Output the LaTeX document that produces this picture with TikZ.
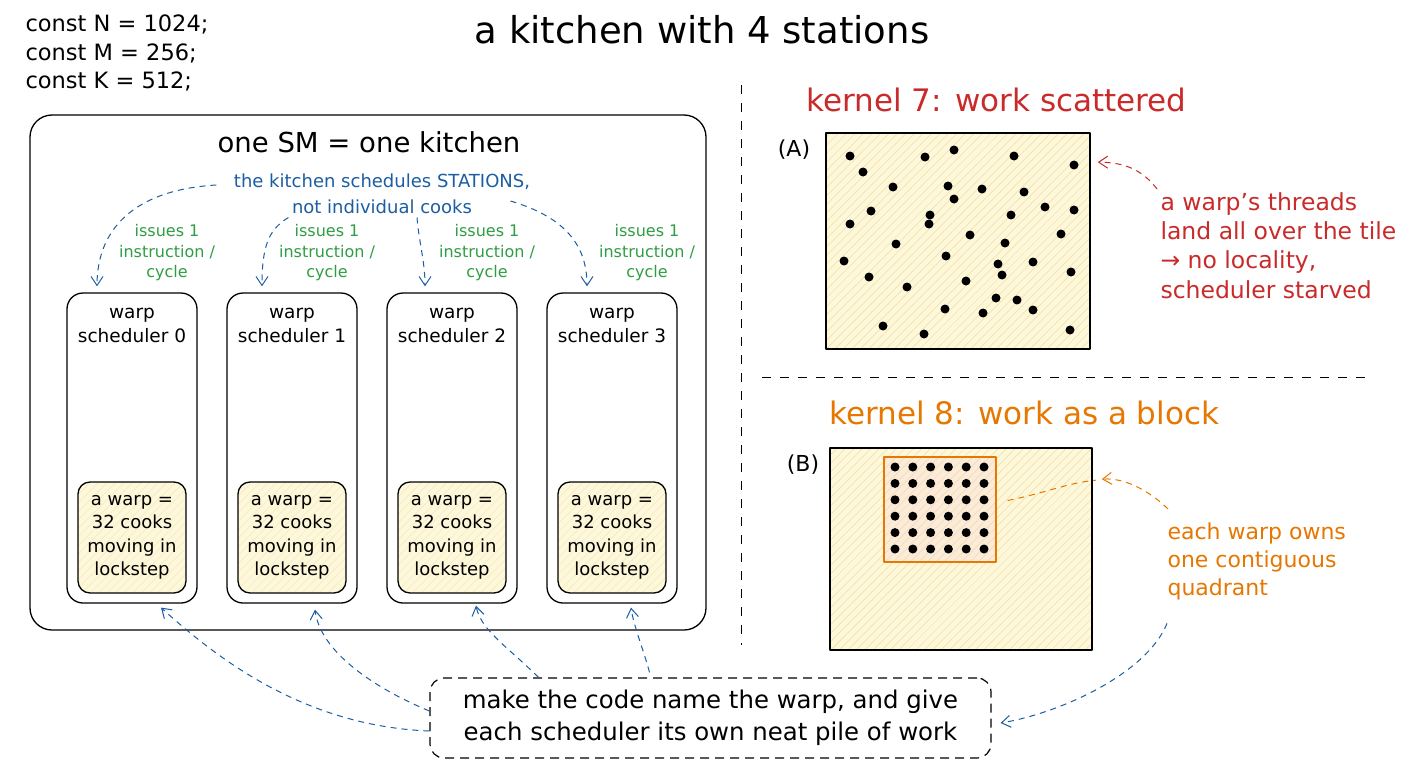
\documentclass[tikz,border=0pt]{standalone}
\usepackage{fontspec}
\setmainfont{DejaVu Sans}
\usetikzlibrary{arrows.meta,patterns.meta,positioning}
\definecolor{inkblue}{RGB}{28,94,163}
\definecolor{inkgreen}{RGB}{47,158,68}
\definecolor{inkred}{RGB}{201,42,42}
\definecolor{inkorange}{RGB}{230,119,0}
\definecolor{paper}{RGB}{253,247,220}
\definecolor{straw}{RGB}{243,224,150}
\newcommand\fs[2]{\fontsize{#1}{#2}\selectfont}
\begin{document}
\begin{tikzpicture}[x=1pt,y=-1pt,line join=round,
box/.style={draw,line width=1.3pt},
hatch/.style={preaction={fill=paper},preaction={pattern={Lines[angle=45,distance=6pt,line width=.5pt]},pattern color=#1}},
hatch/.default=straw,
sched/.style={box,rounded corners=16pt,minimum width=130pt,minimum height=310pt,inner sep=0pt},
warpbox/.style={box,hatch=straw!70,rounded corners=12pt,minimum width=108pt,minimum height=111pt,align=center,font=\fs{18}{23.5},inner sep=0pt},
call/.style={dash pattern=on 6pt off 5pt,line width=1pt,-{Straight Barb[length=9pt,width=12pt]}},
split/.style={draw,dash pattern=on 9pt off 9pt,line width=1pt}]
\fill[white](0,0)rectangle(1408,768);
\useasboundingbox(0,0)rectangle(1408,768);
% left half: the kitchen
\node[anchor=west,align=left,font=\fs{22.5}{28.5}](consts)at(22,53){const N = 1024;\\const M = 256;\\const K = 512;};
\node[font=\fs{37}{40}](title)at(702,30){a kitchen with 4 stations};
\node[box,rounded corners=22pt,minimum width=676pt,minimum height=515pt](sm)at(368,372.5){};
\node[font=\fs{27.5}{30}](smtitle)at(369,142){one SM = one kitchen};
\node[text=inkblue,font=\fs{18}{22}](kt1)at(382,182){the kitchen schedules STATIONS,};
\node[text=inkblue,font=\fs{18}{22}](kt2)at(382,207){not individual cooks};
\foreach\i in{0,...,3}{
\node[sched](s\i)at({132+160*\i},448){};
\node[font=\fs{18.5}{24},align=center](sl\i)at({132+160*\i},325){warp\\scheduler \i};
\node[warpbox](w\i)at({132+160*\i},537.5){a warp =\\32 cooks\\moving in\\lockstep};
\node[text=inkgreen,font=\fs{16}{20.5},align=center](g\i)at({167+160*\i},253){issues 1\\instruction /\\cycle};}
\draw[call,inkblue]([shift={(-14pt,-3pt)}]kt1.west)..controls+(-85,5)and+(0,-55)..([xshift=-35pt,yshift=6pt]s0.north);
\draw[call,inkblue](kt2.south west)..controls+(-20,12)and+(0,-40)..([xshift=-30pt,yshift=6pt]s1.north);
\draw[call,inkblue]([xshift=35pt]kt2.south)..controls+(2,25)and+(0,-25)..([xshift=-27pt,yshift=6pt]s2.north);
\draw[call,inkblue]([shift={(35pt,6pt)}]kt2.east)..controls+(50,15)and+(0,-45)..([xshift=-25pt,yshift=6pt]s3.north);
% the fix
\node[draw,dash pattern=on 9pt off 6pt,line width=1.2pt,rounded corners=14pt,minimum width=561pt,minimum height=80pt,align=center,font=\fs{24.4}{32}](note)at(710.5,718){make the code name the warp, and give\\each scheduler its own neat pile of work};
\draw[call,inkblue]([yshift=-13pt]note.west)..controls+(-130,-5)and+(50,45)..([xshift=29pt,yshift=-4pt]s0.south);
\draw[call,inkblue]([yshift=7pt]note.west)..controls+(-60,-25)and+(5,40)..([xshift=23pt,yshift=-6pt]s1.south);
\draw[call,inkblue]([xshift=-172pt]note.north)..controls+(-30,-30)and+(5,25)..([xshift=24pt,yshift=-2pt]s2.south);
\draw[call,inkblue]([xshift=-61pt,yshift=5pt]note.north)..controls+(-5,-20)and+(3,20)..([xshift=19pt,yshift=-4pt]s3.south);
\draw[split](741,85)--(741,645);
\draw[split](762,377)--(1370,377);
% right half: kernel 7
\node[anchor=west,text=inkred,font=\fs{31}{34}](k7)at(803,100){kernel 7: work scattered};
\node[font=\fs{22}{24}](tagA)at(794,150){(A)};
\node[box,hatch,line width=1.6pt,minimum width=264pt,minimum height=216pt,inner sep=0pt](tileA)at(958,241){};
\foreach\x/\y in{850/156,925/157,954/150,1014/156,1074/165,863/172,893/187,948/186,982/189,1024/192,954/199,871/211,930/215,1011/215,1045/207,1074/210,850/224,929/224,970/235,1061/234,896/244,1005/243,946/256,844/261,998/264,1033/262,869/277,1002/275,1071/272,907/287,966/281,996/298,1017/300,945/309,983/313,1033/310,883/326,924/334,1070/330}
\fill(\x,\y)circle(4.5);
\node[anchor=north west,align=left,text=inkred,font=\fs{23.5}{29.3}](noteA)at(1157,189){a warp's threads\\land all over the tile\\→ no locality,\\scheduler starved};
\draw[call,inkred](noteA.north west)..controls+(-15,-20)and+(25,0)..([xshift=7pt,yshift=-30pt]tileA.north east);
% right half: kernel 8
\node[anchor=west,text=inkorange,font=\fs{31}{34}](k8)at(826,413){kernel 8: work as a block};
\node[font=\fs{22}{24}](tagB)at(803,465){(B)};
\node[box,hatch,line width=1.6pt,minimum width=262pt,minimum height=202pt,inner sep=0pt](tileB)at(961,549){};
\node[draw=inkorange,line width=1.2pt,preaction={fill=inkorange!15},preaction={pattern={Lines[angle=45,distance=6pt,line width=.5pt]},pattern color=inkorange!30},minimum width=112pt,minimum height=105pt,inner sep=0pt](quad)at(940,509.5){};
\foreach\i in{0,...,5}{
\foreach\j in{0,...,5}{
\fill({895+17.8*\i},{467+16.4*\j})circle(4.5);}}
\node[anchor=north west,align=left,text=inkorange,font=\fs{22}{28}](noteB)at(1164,519){each warp owns\\one contiguous\\quadrant};
\draw[call,inkorange]([shift={(4pt,10pt)}]noteB.north west)..controls+(-15,-15)and+(25,-2)..([xshift=9pt,yshift=-32pt]tileB.north east);
\draw[dash pattern=on 6pt off 5pt,line width=1pt,inkorange]([xshift=11pt,yshift=9pt]quad.east)..controls+(40,-8)and+(-30,3)..([xshift=3pt,yshift=-33pt]tileB.north east);
\draw[call,inkblue]([shift={(3pt,-20pt)}]noteB.south west)..controls+(-20,50)and+(60,-10)..([xshift=9pt,yshift=-5pt]note.east);
\end{tikzpicture}
\end{document}
